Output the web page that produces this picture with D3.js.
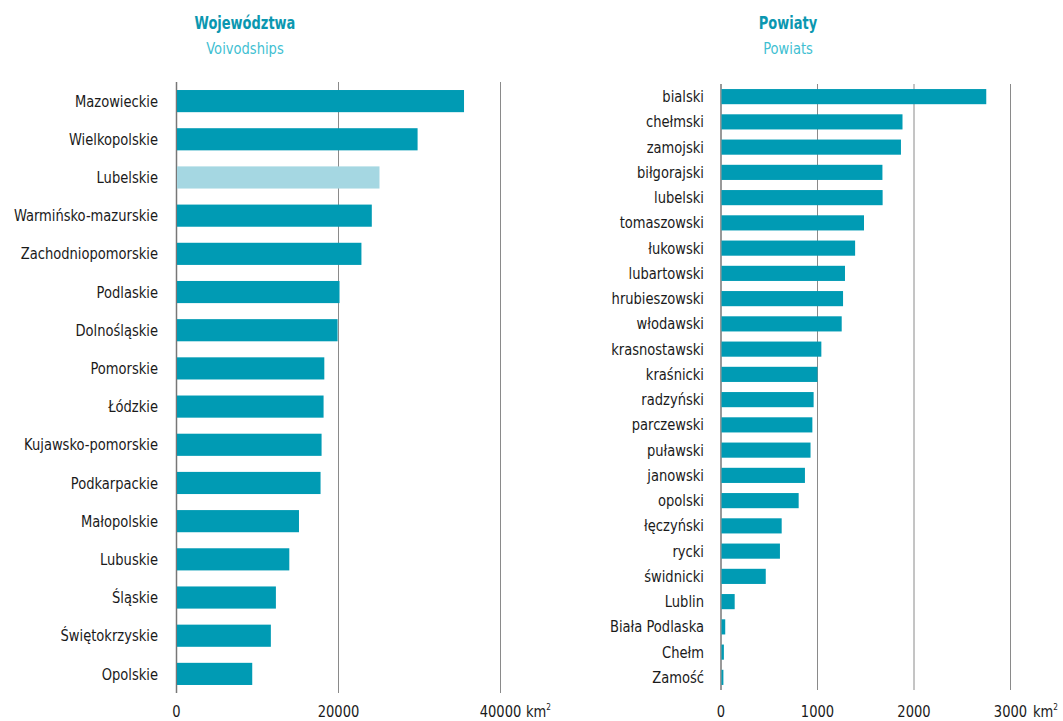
<!DOCTYPE html>
<html><head><meta charset="utf-8">
<script src="https://cdn.jsdelivr.net/npm/d3@7"></script>
<style>
body{margin:0;background:#fff;}
text{font-family:"DejaVu Sans Condensed","Liberation Sans Narrow","Open Sans",sans-serif;}
</style></head><body>
<svg id="c" width="1063" height="721"></svg>
<script>
const voivodships = ["Mazowieckie","Wielkopolskie","Lubelskie","Warmińsko-mazurskie","Zachodniopomorskie","Podlaskie","Dolnośląskie","Pomorskie","Łódzkie","Kujawsko-pomorskie","Podkarpackie","Małopolskie","Lubuskie","Śląskie","Świętokrzyskie","Opolskie"];
const voivodshipArea = [35558,29826,25122,24173,22892,20187,19947,18310,18219,17972,17846,15183,13988,12333,11711,9412];
const voivodshipTicks = [0,20000,40000];
const highlight = "Lubelskie";

const powiats = ["bialski","chełmski","zamojski","biłgorajski","lubelski","tomaszowski","łukowski","lubartowski","hrubieszowski","włodawski","krasnostawski","kraśnicki","radzyński","parczewski","puławski","janowski","opolski","łęczyński","rycki","świdnicki","Lublin","Biała Podlaska","Chełm","Zamość"];
const powiatArea = [2754,1886,1870,1678,1680,1487,1395,1290,1270,1256,1045,1005,965,952,933,875,810,634,616,469,147,49,35,30];
const powiatTicks = [0,1000,2000,3000];

const svg = d3.select("#c");
const main = "#009bb4", light = "#a5d7e2", titleCol = "#0b97b0", subCol = "#3fbfd2";
const SX = 0.91;

function panel(opt){
  const g = svg.append("g");
  const x = d3.scaleLinear().domain(opt.domain).range([opt.x0, opt.x1]);
  const y = d3.scaleBand().domain(opt.cats).range([opt.yTop, opt.yBot]).paddingInner(opt.pad).paddingOuter(opt.pad/2);
  g.selectAll("line.grid").data(opt.ticks).join("line")
    .attr("x1", d=>x(d)+0.5).attr("x2", d=>x(d)+0.5)
    .attr("y1", opt.gTop).attr("y2", opt.gBot)
    .attr("stroke", d=> d===0 ? "#777" : "#8a8a8a").attr("stroke-width", d=>d===0?1.5:1);
  g.selectAll("rect").data(opt.vals).join("rect")
    .attr("x", x(0)+1).attr("y", (d,i)=>y(opt.cats[i]))
    .attr("width", d=>x(d)-x(0)-1).attr("height", y.bandwidth())
    .attr("fill", (d,i)=> opt.cats[i]===highlight ? light : main);
  g.selectAll("text.cat").data(opt.cats).join("text")
    .attr("transform", d=>`translate(${opt.labelX},${y(d)+y.bandwidth()/2}) scale(${SX},1)`)
    .attr("dy","0.35em").attr("text-anchor","end")
    .attr("font-size", opt.fs).attr("fill","#1a1a1a").text(d=>d);
  const ax = d3.axisBottom(x).tickValues(opt.ticks).tickSize(0).tickFormat(d3.format("d"));
  const axg = g.append("g").attr("transform", `translate(0,${opt.axisY})`).call(ax);
  axg.select(".domain").remove();
  axg.selectAll("text").attr("font-size",16).attr("fill","#1a1a1a")
    .attr("transform",`scale(${SX},1)`)
    .style("font-family",'"DejaVu Sans Condensed",sans-serif');
  const t = g.append("text")
    .attr("transform",`translate(${x(opt.ticks[opt.ticks.length-1])+opt.kmOff},${opt.axisY+14}) scale(${SX},1)`)
    .attr("font-size",16).attr("fill","#1a1a1a");
  t.append("tspan").text("km");
  t.append("tspan").attr("font-size",9).attr("dy",-7).text("2");
  g.append("text").attr("transform",`translate(${opt.titleX},29) scale(0.85,1)`).attr("text-anchor","middle")
    .attr("font-size",17).attr("font-weight","bold").attr("fill",titleCol).text(opt.title);
  g.append("text").attr("transform",`translate(${opt.titleX},54) scale(${SX},1)`).attr("text-anchor","middle")
    .attr("font-size",16).attr("fill",subCol).text(opt.sub);
}

panel({cats:voivodships, vals:voivodshipArea, ticks:voivodshipTicks, domain:[0,40000],
  x0:176, x1:500, yTop:82, yBot:693, pad:0.42, gTop:82, gBot:693, labelX:158, fs:16,
  axisY:703, kmOff:26, titleX:245, title:"Województwa", sub:"Voivodships"});
panel({cats:powiats, vals:powiatArea, ticks:powiatTicks, domain:[0,3000],
  x0:720.5, x1:1010, yTop:84, yBot:690, pad:0.4, gTop:84, gBot:690, labelX:704, fs:16,
  axisY:703, kmOff:23, titleX:788, title:"Powiaty", sub:"Powiats"});
</script></body></html>
